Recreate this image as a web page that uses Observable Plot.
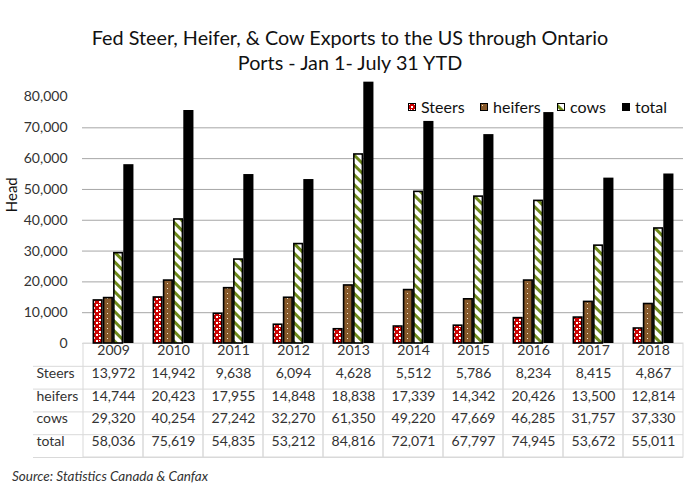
<!DOCTYPE html>
<html>
<head>
<meta charset="utf-8">
<script src="https://cdn.jsdelivr.net/npm/d3@7"></script>
<script src="https://cdn.jsdelivr.net/npm/@observablehq/plot@0.6"></script>
<style>
  html, body { margin: 0; padding: 0; background: #fff; }
  body { width: 700px; height: 483px; position: relative; overflow: hidden; font-family: Lato, "Open Sans", sans-serif; }
  #title { height: 76px; box-sizing: border-box; padding-top: 25px; text-align: center; font-size: 19.8px; line-height: 25px; color: #111; }
  #chart svg { display: block; }
  #legend { position: absolute; top: 97px; left: 0; width: 700px; height: 20px; font-size: 16px; color: #111; }
  #legend .item { position: absolute; top: 0; display: flex; align-items: center; gap: 5px; }
  #caption { position: absolute; left: 12px; top: 468px; font-size: 13.5px; line-height: 16px; font-style: italic; color: #333; }
</style>
</head>
<body>
<div id="title">Fed Steer, Heifer, &amp; Cow Exports to the US through Ontario<br>Ports - Jan 1- July 31 YTD</div>
<div id="chart"></div>
<div id="legend"></div>
<div id="caption">Source: Statistics Canada &amp; Canfax</div>
<script>
// ---- data ----
const years   = ["2009","2010","2011","2012","2013","2014","2015","2016","2017","2018"];
const steers  = [13972,14942,9638,6094,4628,5512,5786,8234,8415,4867];
const heifers = [14744,20423,17955,14848,18838,17339,14342,20426,13500,12814];
const cows    = [29320,40254,27242,32270,61350,49220,47669,46285,31757,37330];
const total   = [58036,75619,54835,53212,84816,72071,67797,74945,53672,55011];
const seriesNames = ["Steers","heifers","cows","total"];
const seriesKeys  = ["steers","heifers","cows","total"];
const yTicks = [0,10000,20000,30000,40000,50000,60000,70000,80000];
const gridTicks = [10000,20000,30000,40000,50000,60000,70000];

const rows = years.map((y, i) => ({year: y, steers: steers[i], heifers: heifers[i], cows: cows[i], total: total[i]}));
const fmt = d3.format(",");

// ---- layout ----
const W = 700, H = 392, mL = 82, mR = 17, mT = 20.5, mB = 125;
const bw = (W - mL - mR) / years.length;
const slotW = 10.25, groupW = slotW * 4, left0 = (bw - groupW) / 2;
const rowH = 22.8;

const fills = {
  steers: "url(#pSteers)",
  heifers: "url(#pHeifers)",
  cows: "url(#pCows)",
  total: "#000"
};

const marks = [];
// grid
marks.push(Plot.ruleY(gridTicks, {stroke: "#a6a6a6", strokeWidth: 1}));
// table vertical borders (column cells)
marks.push(Plot.barY(rows, {x: "year", y1: 0, y2: 0, insetBottom: -rowH * 5, fill: "none", stroke: "#d9d9d9", strokeWidth: 1}));
// table horizontal borders
marks.push(Plot.ruleY([0], {stroke: "#d9d9d9"}));
for (let r = 1; r <= 5; r++) {
  marks.push(Plot.ruleY([0], {stroke: "#d9d9d9", dy: rowH * r, insetLeft: -49}));
}
// bars
seriesKeys.forEach((k, i) => {
  marks.push(Plot.barY(rows, {
    x: "year", y: k,
    fill: fills[k],
    stroke: k === "total" ? "none" : "#000",
    strokeWidth: 1.6,
    insetLeft: left0 + i * slotW + (k === "total" ? 0 : 0.8),
    insetRight: bw - left0 - (i + 1) * slotW + (k === "total" ? 0 : 0.8)
  }));
});
// y axis
marks.push(Plot.axisY(yTicks, {tickSize: 0, tickPadding: 15, tickFormat: fmt, fontSize: 14, fill: "#333", label: null}));
marks.push(Plot.text(["Head"], {frameAnchor: "left", rotate: -90, dx: -70, dy: -8, fontSize: 15, fill: "#111"}));
// table header
marks.push(Plot.text(rows, {x: "year", text: "year", frameAnchor: "bottom", dy: rowH * 0.5, fontSize: 14, fill: "#333"}));
// table rows
seriesKeys.forEach((k, i) => {
  marks.push(Plot.text(rows, {x: "year", text: d => fmt(d[k]), frameAnchor: "bottom", dy: rowH * (i + 1.5), fontSize: 14, fill: "#333"}));
  marks.push(Plot.text([seriesNames[i]], {frameAnchor: "bottom-left", textAnchor: "start", dx: -46, dy: rowH * (i + 1.5), fontSize: 14, fill: "#333"}));
});

const plot = Plot.plot({
  width: W, height: H,
  marginLeft: mL, marginRight: mR, marginTop: mT, marginBottom: mB,
  style: {fontFamily: "Lato, 'Open Sans', sans-serif", overflow: "visible"},
  x: {type: "band", domain: years, padding: 0, axis: null},
  y: {domain: [0, 80000], axis: null},
  marks
});

// patterns
const defs = d3.select(plot).insert("defs", ":first-child");
const pS = defs.append("pattern").attr("id", "pSteers").attr("patternUnits", "userSpaceOnUse").attr("width", 6).attr("height", 6);
pS.append("rect").attr("width", 6).attr("height", 6).attr("fill", "#cc0000");
pS.append("rect").attr("x", 0).attr("y", 0).attr("width", 2).attr("height", 2).attr("fill", "#fff");
pS.append("rect").attr("x", 3).attr("y", 3).attr("width", 2).attr("height", 2).attr("fill", "#fff");
pS.append("rect").attr("x", 3).attr("y", 0).attr("width", 1).attr("height", 1).attr("fill", "#fff");
const pH = defs.append("pattern").attr("id", "pHeifers").attr("patternUnits", "userSpaceOnUse").attr("width", 5).attr("height", 5);
pH.append("rect").attr("width", 5).attr("height", 5).attr("fill", "#87592a");
pH.append("rect").attr("x", 2).attr("y", 2).attr("width", 1).attr("height", 1).attr("fill", "#f3e6cf");
const pC = defs.append("pattern").attr("id", "pCows").attr("patternUnits", "userSpaceOnUse").attr("width", 7).attr("height", 7).attr("patternTransform", "rotate(45)");
pC.append("rect").attr("width", 7).attr("height", 7).attr("fill", "#fff");
pC.append("rect").attr("x", 0).attr("y", 0).attr("width", 7).attr("height", 3).attr("fill", "#6e8a1a");

document.getElementById("chart").appendChild(plot);

// legend
const legend = d3.select("#legend");
const lefts = [408, 480, 557, 622];
seriesKeys.forEach((k, i) => {
  const it = legend.append("div").attr("class", "item").style("left", lefts[i] + "px");
  const sw = it.append("svg").attr("width", 8).attr("height", 8);
  sw.append("rect").attr("x", 0.5).attr("y", 0.5).attr("width", 7).attr("height", 7)
    .attr("fill", fills[k]).attr("stroke", "#000").attr("stroke-width", 1);
  it.append("span").text(seriesNames[i]);
});
</script>
</body>
</html>
